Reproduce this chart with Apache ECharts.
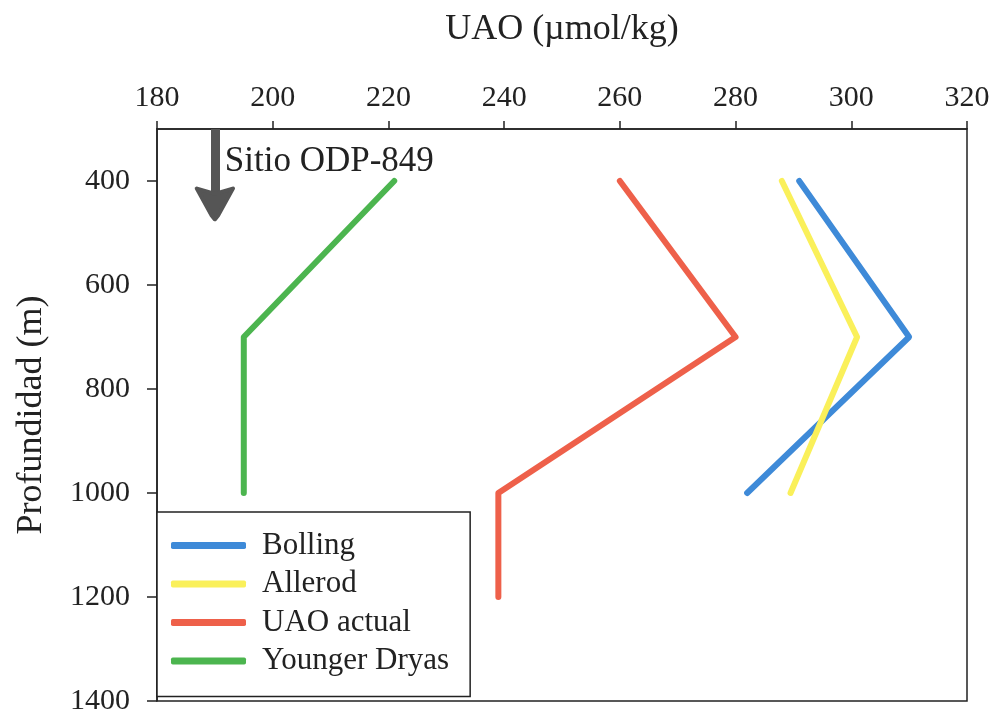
<!DOCTYPE html>
<html>
<head>
<meta charset="utf-8">
<script src="https://cdn.jsdelivr.net/npm/echarts@6/dist/echarts.min.js"></script>
<style>
  html, body { margin: 0; padding: 0; background: #fff; }
  #chart { width: 993px; height: 711px; }
</style>
</head>
<body>
<div id="chart"></div>
<script>
// Depth levels (m)
const depths = [400, 700, 1000];
const depthsActual = [400, 700, 1000, 1200];
// UAO values (µmol/kg)
const bolling = [291, 310, 282];
const allerod = [288, 301, 289.5];
const uaoActual = [260, 280, 239, 239];
const youngerDryas = [221, 195, 195];
// Axis ticks
const xTicks = [180, 200, 220, 240, 260, 280, 300, 320];
const yTicks = [400, 600, 800, 1000, 1200, 1400];
// Annotation
const siteLabel = 'Sitio ODP-849';
const arrowX = 190;
const arrowFrom = 300;
const arrowShaftEnd = 440;
const arrowHeadAt = 444;

const FONT = 'Liberation Serif';
const TXT = '#222';

function pairs(xs, ys) { return xs.map((v, i) => [v, ys[i]]); }

const chart = echarts.init(document.getElementById('chart'), null, { renderer: 'canvas' });

const seriesDefs = [
  { name: 'Bolling', color: '#3E8AD8', data: pairs(bolling, depths) },
  { name: 'Allerod', color: '#FAF05A', data: pairs(allerod, depths) },
  { name: 'UAO actual', color: '#EE604A', data: pairs(uaoActual, depthsActual) },
  { name: 'Younger Dryas', color: '#4CB54F', data: pairs(youngerDryas, depths) }
];

const series = seriesDefs.map(s => ({
  name: s.name,
  type: 'line',
  data: s.data,
  showSymbol: false,
  symbol: 'none',
  color: s.color,
  lineStyle: { color: s.color, width: 6, cap: 'round', join: 'round' },
  animation: false,
  z: 3
}));

series.push({
  name: 'annot',
  type: 'line',
  data: [[arrowX, arrowFrom]],
  showSymbol: false,
  symbol: 'none',
  lineStyle: { opacity: 0 },
  animation: false,
  silent: true,
  markLine: {
    silent: true,
    animation: false,
    symbol: ['none', 'none'],
    label: { show: false },
    lineStyle: { color: '#555', width: 9, type: 'solid', cap: 'butt' },
    data: [[{ coord: [arrowX, arrowFrom] }, { coord: [arrowX, arrowShaftEnd] }]]
  },
  markPoint: {
    silent: true,
    animation: false,
    data: [
      {
        coord: [191.8, 365],
        symbol: 'circle',
        symbolSize: 1,
        itemStyle: { color: 'rgba(0,0,0,0)' },
        label: {
          show: true,
          formatter: siteLabel,
          position: [0, 0],
          align: 'left',
          verticalAlign: 'middle',
          fontFamily: FONT,
          fontSize: 35,
          color: TXT
        }
      },
      {
        coord: [arrowX, arrowHeadAt],
        symbol: 'path://M0,0 L18,6 L36,0 L21,30 L18,34 L15,30 Z',
        symbolSize: [36, 31],
        itemStyle: { color: '#555', borderColor: '#555', borderWidth: 4, borderJoin: 'round' },
        label: { show: false }
      }
    ]
  }
});

const option = {
  backgroundColor: '#fff',
  animation: false,
  textStyle: { fontFamily: FONT },
  grid: {
    left: 157, right: 26, top: 129, bottom: 10,
    containLabel: false,
    outerBoundsMode: 'none',
    show: true, borderColor: '#222', borderWidth: 1.5, backgroundColor: 'transparent'
  },
  xAxis: {
    type: 'value',
    position: 'top',
    min: xTicks[0],
    max: xTicks[xTicks.length - 1],
    interval: 20,
    name: 'UAO (µmol/kg)',
    nameLocation: 'middle',
    nameGap: 81,
    nameTextStyle: { fontFamily: FONT, fontSize: 36, color: TXT },
    axisLine: { show: true, lineStyle: { color: '#222', width: 1.5 } },
    axisTick: { show: true, inside: false, length: 8, lineStyle: { color: '#222', width: 1.5 } },
    axisLabel: { fontFamily: FONT, fontSize: 30, color: TXT, margin: 16, formatter: v => String(v) },
    splitLine: { show: false }
  },
  yAxis: {
    type: 'value',
    inverse: true,
    min: 300,
    max: 1400,
    interval: 100,
    name: 'Profundidad (m)',
    nameLocation: 'middle',
    nameGap: 107,
    nameRotate: 90,
    nameTextStyle: { fontFamily: FONT, fontSize: 36, color: TXT },
    axisLine: { show: true, lineStyle: { color: '#222', width: 1.5 } },
    axisTick: { show: true, inside: false, length: 10, customValues: yTicks, lineStyle: { color: '#222', width: 1.5 } },
    axisLabel: { fontFamily: FONT, fontSize: 30, color: TXT, margin: 27, customValues: yTicks, formatter: v => String(v) },
    splitLine: { show: false }
  },
  legend: {
    orient: 'vertical',
    left: 157,
    top: 512,
    data: seriesDefs.map(s => s.name),
    icon: 'roundRect',
    itemWidth: 75,
    itemHeight: 7,
    itemGap: 7.5,
    padding: [18, 21, 20, 14],
    borderColor: '#222',
    borderWidth: 1.5,
    backgroundColor: '#fff',
    selectedMode: false,
    textStyle: { fontFamily: FONT, fontSize: 31, color: TXT, lineHeight: 31, padding: [0, 0, 0, 11] }
  },
  series: series
};

chart.setOption(option);
</script>
</body>
</html>
